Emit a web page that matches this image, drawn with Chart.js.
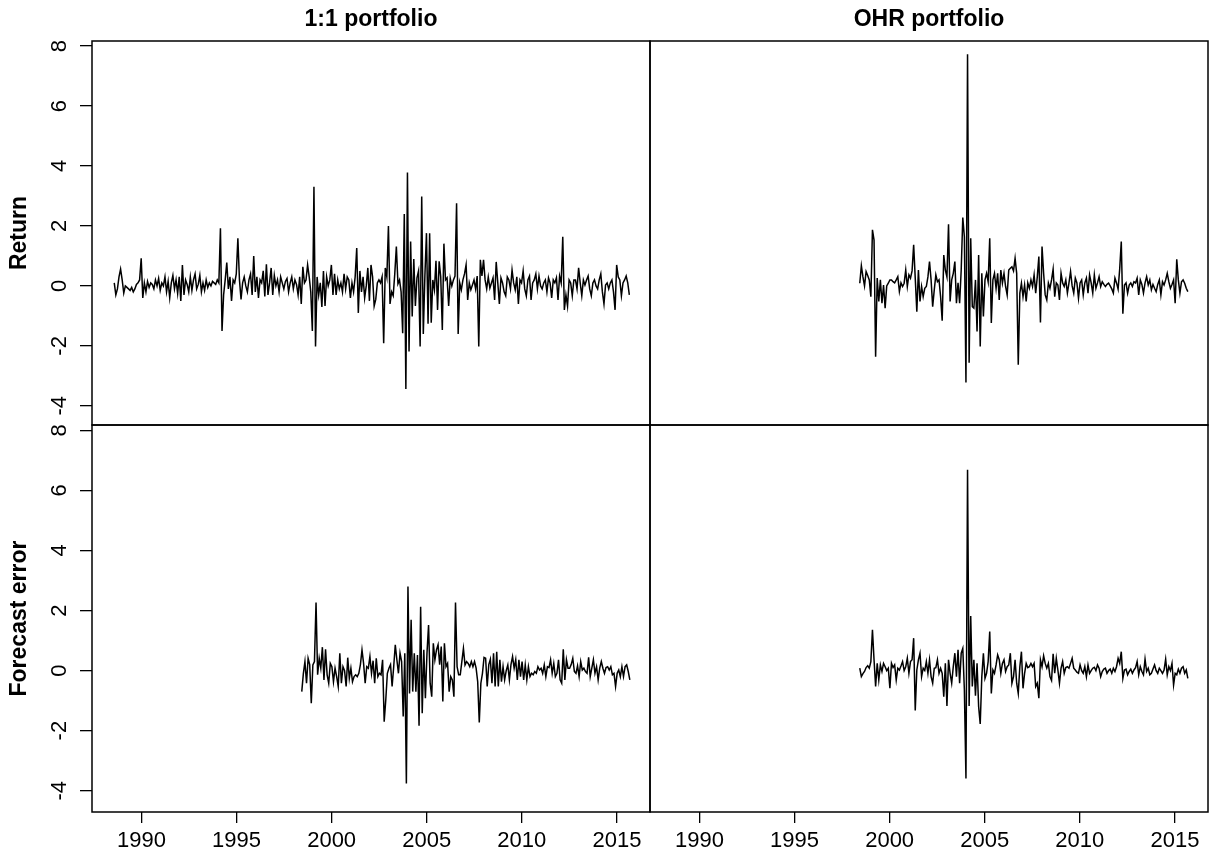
<!DOCTYPE html>
<html>
<head>
<meta charset="utf-8">
<script src="https://cdn.jsdelivr.net/npm/chart.js@4.4.1/dist/chart.umd.min.js"></script>
<style>
html,body{margin:0;padding:0;background:#fff;}
#wrap{position:relative;width:1211px;height:859px;}
#wrap canvas{position:absolute;left:0;top:0;}
</style>
</head>
<body>
<div id="wrap">
<canvas id="c1" width="1211" height="859"></canvas>
<canvas id="c2" width="1211" height="859"></canvas>
<canvas id="c3" width="1211" height="859"></canvas>
<canvas id="c4" width="1211" height="859"></canvas>
</div>
<script>
// monthly series, first month as decimal year
const startLong = 1988.57;
const startShort = 1998.43;
const yearTicks = [1990, 1995, 2000, 2005, 2010, 2015];
const yTicks = [-4, -2, 0, 2, 4, 6, 8];
const colTitles = ['1:1 portfolio', 'OHR portfolio'];
const rowTitles = ['Return', 'Forecast error'];

// 1:1 portfolio return
const ret11 = [
  0.1,-0.3,-0.1,0.3,0.56,0.2,-0.24,0.0,-0.05,-0.1,-0.15,-0.05,
  -0.2,-0.1,0.05,0.1,0.2,0.92,-0.4,0.1,-0.2,0.15,-0.05,0.1,
  0.05,-0.1,0.2,0.0,0.25,-0.15,0.1,0.0,0.3,-0.2,0.15,-0.4,
  0.1,0.35,-0.1,0.2,-0.25,0.3,-0.5,0.7,-0.3,0.2,0.05,-0.2,
  0.3,-0.15,0.2,0.4,-0.1,0.05,0.35,-0.2,0.1,-0.15,0.2,-0.05,
  0.1,0.0,0.15,0.1,0.05,0.2,0.1,1.92,-1.5,-0.3,0.2,0.78,
  -0.1,0.3,-0.5,0.2,0.1,0.4,1.59,0.2,-0.45,0.1,0.3,0.0,
  -0.2,0.2,0.4,-0.3,1.0,-0.2,0.3,-0.4,0.2,0.1,0.5,-0.35,
  0.72,-0.3,0.1,0.6,-0.3,0.35,0.0,0.2,-0.2,0.3,0.1,-0.1,
  0.15,0.25,-0.2,0.1,0.3,-0.1,0.2,0.05,-0.3,0.3,-0.6,0.64,
  0.1,0.2,0.7,0.3,-0.2,-1.5,3.31,-2.02,0.3,-0.3,0.1,-0.7,
  0.5,-0.67,0.3,0.0,0.2,0.7,-0.3,0.4,-0.3,0.2,-0.1,0.1,
  -0.2,0.4,-0.1,0.3,0.2,-0.4,0.1,-0.2,0.3,1.26,-0.9,0.5,
  -0.2,0.3,-0.4,0.0,0.6,-0.5,0.7,0.3,-0.67,-0.45,0.1,0.2,
  0.1,0.3,-1.91,0.6,0.3,2.0,-0.6,-0.2,-0.33,0.4,1.31,0.07,
  0.2,-0.2,-1.58,2.4,-3.44,3.78,-2.19,1.48,-1.02,0.9,-0.67,0.27,
  0.5,-2.02,2.98,-1.6,0.33,1.76,-1.26,1.76,-1.23,0.2,-0.13,0.84,
  -0.8,0.82,0.3,-1.47,1.41,0.2,0.27,-0.67,0.25,0.0,0.2,0.33,
  2.76,-1.6,0.1,-0.13,0.2,0.4,0.7,-0.47,0.1,-0.13,0.03,0.2,
  -0.1,0.33,-2.02,0.87,0.33,0.87,0.2,-0.1,0.3,-0.07,0.1,0.27,
  -0.47,0.8,0.1,-0.6,0.27,0.1,-0.2,-0.33,0.3,0.2,-0.1,0.53,
  0.1,-0.13,0.3,-0.6,0.2,0.1,0.5,-0.1,-0.33,0.2,0.33,-0.47,
  0.1,0.2,0.4,-0.1,0.33,0.0,-0.1,0.1,0.2,-0.2,0.27,0.1,
  -0.4,0.2,0.1,0.27,-0.47,0.33,0.1,1.64,-0.8,-0.3,-0.67,0.2,
  0.1,-0.33,0.2,0.2,-0.1,0.6,0.1,-0.33,0.2,0.03,0.2,0.33,
  -0.1,-0.33,0.1,0.2,0.0,-0.1,0.2,0.4,-0.2,-0.6,0.03,0.1,
  -0.1,0.1,0.2,-0.2,-0.8,0.7,0.3,0.2,-0.33,0.1,0.2,0.33,
  0.1,-0.3
];

// OHR portfolio return
const retOHR = [
  0.09,0.67,0.3,0.0,0.48,0.35,0.2,-0.36,1.87,1.53,-2.36,0.26,
  -0.52,0.2,-0.58,0.03,-0.74,0.0,0.09,0.2,0.2,0.14,0.1,0.2,
  0.31,-0.19,0.1,-0.02,0.09,0.53,-0.02,0.37,0.26,0.5,1.37,0.26,
  -0.86,0.53,-0.52,-0.02,-0.36,-0.08,-0.02,0.3,0.81,0.2,-0.69,-0.13,
  0.37,0.14,0.2,-0.36,-1.16,1.03,0.53,0.3,2.06,-0.52,0.2,0.42,
  0.81,-0.58,0.1,-0.58,0.53,2.28,1.64,-3.22,7.73,-2.56,1.59,-0.69,
  -0.74,0.2,-1.52,1.03,-2.02,0.42,-1.02,0.2,0.42,0.14,1.59,-1.24,
  0.2,0.42,-0.08,0.42,-0.47,0.53,0.09,0.42,-0.02,-0.3,0.53,0.59,
  0.64,0.5,0.92,0.42,-2.63,-0.24,0.09,-0.36,0.03,-0.52,0.1,-0.08,
  0.2,-0.02,0.37,-0.24,0.3,0.98,-1.22,1.31,0.42,-0.3,-0.47,0.1,
  -0.08,0.2,0.56,-0.36,0.1,0.03,-0.47,0.42,0.1,-0.02,0.2,-0.24,
  0.1,0.48,0.0,-0.24,0.26,0.1,-0.41,0.1,0.2,-0.3,0.1,0.26,
  -0.24,0.37,0.1,-0.24,0.37,-0.08,0.1,0.31,-0.02,0.14,0.05,-0.02,
  0.05,0.09,0.0,-0.1,-0.24,0.26,0.1,-0.11,0.56,1.48,-0.93,0.03,
  0.1,-0.24,0.03,0.1,-0.02,0.14,0.1,0.26,-0.3,0.2,0.05,-0.24,
  0.1,0.31,0.03,0.2,-0.13,0.05,-0.08,-0.19,0.05,0.2,-0.3,0.14,
  0.03,0.2,0.42,0.14,-0.08,0.05,0.2,-0.58,0.89,0.2,-0.24,0.14,
  0.2,0.09,-0.08,-0.19
];

// 1:1 portfolio forecast error
const err11 = [
  -0.7,-0.1,0.3,-0.42,0.41,0.2,-1.09,0.19,0.3,2.27,-0.14,0.41,
  0.08,0.78,-0.31,0.71,-0.14,-0.42,0.24,0.13,-0.37,0.08,-0.2,-0.53,
  0.58,-0.42,0.13,0.0,-0.53,0.43,-0.26,0.08,-0.37,-0.2,-0.14,-0.2,
  -0.09,0.2,0.69,0.24,-0.42,0.13,0.08,0.47,-0.09,0.33,-0.42,0.41,
  -0.2,-0.09,-0.14,0.36,-1.7,-0.98,-0.09,0.08,0.2,-0.53,0.13,0.86,
  0.36,-0.09,0.58,0.3,-1.53,0.58,-3.76,2.8,-0.76,1.69,-0.7,0.58,
  -0.7,0.52,-1.84,2.13,-1.42,0.69,-0.92,0.58,1.52,-0.42,-0.87,0.91,
  0.36,0.69,0.86,0.2,0.8,-1.03,0.91,0.13,0.24,-0.7,-0.2,-0.31,
  -0.87,2.27,0.13,-0.14,-0.14,0.3,0.74,0.19,0.3,0.24,0.13,0.3,
  0.13,0.3,0.08,-0.37,-1.73,-0.42,-0.09,0.44,0.41,-0.53,0.2,0.38,
  -0.42,0.58,-0.53,0.63,-0.53,0.36,-0.37,0.13,-0.31,0.0,0.19,-0.31,
  0.2,0.47,0.08,0.36,-0.31,0.36,-0.2,0.3,-0.31,0.19,-0.31,0.13,
  -0.2,-0.09,-0.14,-0.03,-0.09,0.13,0.02,0.08,-0.09,0.19,-0.2,0.13,
  0.1,0.36,-0.09,0.24,-0.2,-0.09,0.36,-0.31,-0.42,0.71,-0.31,0.36,
  0.08,0.08,0.2,0.41,-0.03,-0.09,0.16,-0.2,0.3,0.02,0.08,-0.03,
  -0.09,0.44,-0.2,0.08,0.36,-0.09,0.13,-0.31,0.08,0.3,0.08,-0.09,
  0.1,0.13,0.02,0.13,-0.14,-0.09,-0.53,-0.09,0.02,-0.2,0.13,-0.2,
  0.13,0.19,-0.03,-0.31
];

// OHR portfolio forecast error
const errOHR = [
  0.08,-0.2,-0.1,-0.03,0.1,0.16,0.08,0.3,1.36,0.36,-0.53,0.24,
  -0.31,0.19,-0.03,0.24,0.13,0.0,0.08,-0.59,0.24,0.1,0.19,-0.31,
  0.08,0.02,0.15,0.3,0.0,0.13,0.41,-0.09,0.3,0.36,1.08,-1.33,
  0.02,0.36,0.58,-0.2,0.08,0.0,0.3,-0.09,0.36,-0.2,-0.42,0.08,
  0.1,0.36,-0.09,0.08,-0.09,-0.87,0.24,-1.18,0.36,-0.09,-0.42,0.13,
  0.58,-0.2,0.69,-0.42,0.58,0.74,-0.64,-3.59,6.69,-1.18,1.82,-0.53,
  0.36,-0.84,0.24,-1.2,-1.78,-0.2,0.58,-0.26,-0.09,0.3,1.3,-0.76,
  0.02,-0.09,0.19,0.52,0.36,-0.09,0.24,0.36,-0.03,0.13,0.19,0.58,
  -0.42,-0.2,0.36,-0.42,-0.76,0.13,0.63,-0.59,-0.09,0.24,0.1,0.13,
  0.24,0.13,0.24,-0.53,-0.42,-0.92,0.36,0.13,0.49,0.24,0.08,0.24,
  -0.2,-0.33,0.56,-0.09,0.41,0.02,-0.42,0.08,0.3,-0.09,0.1,0.13,
  0.08,0.24,0.41,0.08,0.02,-0.05,-0.09,0.19,0.0,-0.09,0.13,-0.2,
  0.19,-0.09,0.0,0.08,0.11,0.0,0.19,0.08,-0.2,-0.03,0.05,0.08,
  -0.09,0.0,0.05,-0.09,0.08,-0.03,0.13,0.41,0.24,0.63,-0.26,0.02,
  0.05,-0.14,-0.03,0.05,-0.09,0.02,0.1,0.3,-0.14,0.13,-0.03,-0.14,
  0.38,-0.03,0.08,-0.14,-0.09,0.05,0.19,0.0,-0.09,0.08,0.0,-0.09,
  0.02,0.38,-0.14,0.13,0.0,0.24,-0.48,-0.09,-0.14,0.05,-0.09,0.08,
  0.13,-0.09,0.02,-0.26
];

const FONT = '"Liberation Sans", Arial, Helvetica, sans-serif';
const W = 1211, H = 859;
const colX = [92, 650, 1208];
const rowY = [41, 425, 812];
const xMin = 1987.40, xMax = 2016.74;
const yMin = [-4.64, -4.71], yMax = [8.17, 8.18];

function toPoints(vals, start){
  return vals.map((v, i) => ({x: start + i / 12, y: v}));
}

// box round the panel, titles and rotated y tick labels
const frame = {
  id: 'frame',
  afterDraw(chart, args, o){
    const {ctx, chartArea: a} = chart;
    ctx.save();
    ctx.strokeStyle = '#000';
    ctx.lineWidth = 1.5;
    ctx.strokeRect(a.left, a.top, a.right - a.left, a.bottom - a.top);
    ctx.fillStyle = '#000';
    ctx.textAlign = 'center';
    ctx.textBaseline = 'middle';
    if (o.title){
      ctx.font = 'bold 23px ' + FONT;
      ctx.fillText(o.title, (a.left + a.right) / 2, 20);
    }
    if (o.ytitle){
      const ys = chart.scales.y;
      ctx.font = '22px ' + FONT;
      ys.ticks.forEach(t => {
        ctx.save();
        ctx.translate(60, ys.getPixelForValue(t.value));
        ctx.rotate(-Math.PI / 2);
        ctx.fillText(String(t.value), 0, 0);
        ctx.restore();
      });
      ctx.save();
      ctx.translate(20, (a.top + a.bottom) / 2);
      ctx.rotate(-Math.PI / 2);
      ctx.font = 'bold 23px ' + FONT;
      ctx.fillText(o.ytitle, 0, 0);
      ctx.restore();
    }
    ctx.restore();
  }
};

function panel(id, vals, start, col, row){
  const left = colX[col], right = colX[col + 1];
  const top = rowY[row], bottom = rowY[row + 1];
  const showY = col === 0, showX = row === 1;
  new Chart(document.getElementById(id), {
    type: 'line',
    data: {datasets: [{
      data: toPoints(vals, start),
      borderColor: '#000', borderWidth: 1.5,
      pointRadius: 0, tension: 0, fill: false
    }]},
    options: {
      responsive: false, animation: false, events: [],
      layout: {padding: {left: showY ? 0 : left, right: W - right, top: top, bottom: showX ? 0 : H - bottom}},
      plugins: {
        legend: {display: false}, tooltip: {enabled: false},
        frame: {title: row === 0 ? colTitles[col] : null, ytitle: showY ? rowTitles[row] : null}
      },
      scales: {
        x: {
          type: 'linear', min: xMin, max: xMax, display: showX,
          afterFit: s => { if (showX) s.height = H - bottom; },
          afterBuildTicks: s => { s.ticks = yearTicks.map(v => ({value: v})); },
          ticks: {color: '#000', font: {family: FONT, size: 22}, padding: 5,
                  maxRotation: 0, autoSkip: false, callback: v => String(v)},
          grid: {drawOnChartArea: false, drawTicks: true, tickLength: 11, color: '#000', lineWidth: 1.3},
          border: {display: false}
        },
        y: {
          type: 'linear', min: yMin[row], max: yMax[row], display: showY,
          afterFit: s => { if (showY) s.width = left; },
          afterBuildTicks: s => { s.ticks = yTicks.map(v => ({value: v})); },
          ticks: {display: false},
          grid: {drawOnChartArea: false, drawTicks: true, tickLength: 12, color: '#000', lineWidth: 1.3},
          border: {display: false}
        }
      }
    },
    plugins: [frame]
  });
}

panel('c1', ret11, startLong, 0, 0);
panel('c2', retOHR, startShort, 1, 0);
panel('c3', err11, startShort, 0, 1);
panel('c4', errOHR, startShort, 1, 1);
</script>
</body>
</html>
